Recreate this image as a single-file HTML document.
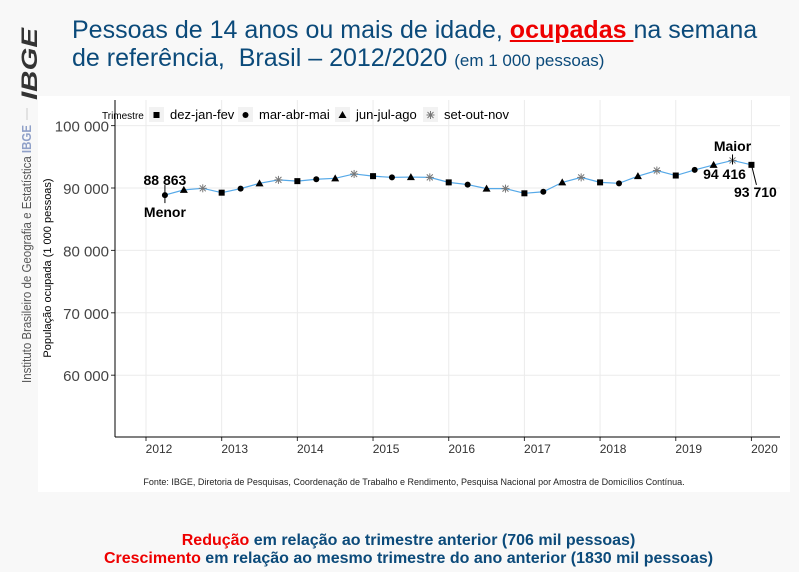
<!DOCTYPE html>
<html><head><meta charset="utf-8"><style>
body{margin:0;width:799px;height:572px;background:#f8f8f8;font-family:"Liberation Sans",sans-serif;overflow:hidden;position:relative}
.t{position:absolute;left:72px;top:16px;color:#0b4a7a;font-size:25px;line-height:28px}
.b{position:absolute;left:9px;width:799px;text-align:center;font-weight:bold;font-size:16px;color:#0b4a7a}
</style></head><body>
<div class="t">Pessoas de 14 anos ou mais de idade, <span style="color:#e00;font-weight:bold;text-decoration:underline">ocupadas </span>na semana<br>de referência,&nbsp; Brasil – 2012/2020 <span style="font-size:17px">(em 1 000 pessoas)</span></div>
<svg width="799" height="572" style="position:absolute;left:0;top:0">
<text transform="translate(37,100) rotate(-90)" font-size="22" font-weight="bold" font-style="italic" fill="#333" text-anchor="start" textLength="72" lengthAdjust="spacingAndGlyphs">IBGE</text>
<line x1="27" x2="27" y1="108" y2="120" stroke="#ccc"/>
<text transform="translate(31,383) rotate(-90)" font-size="12.5" fill="#555" textLength="258" lengthAdjust="spacingAndGlyphs">Instituto Brasileiro de Geografia e Estatística <tspan fill="#8fa0c8" font-weight="bold">IBGE</tspan></text>
<rect x="38" y="96" width="752" height="396" fill="#fff"/>
<g id="plot"></g>
<text x="414" y="485" font-size="9" fill="#222" text-anchor="middle">Fonte: IBGE, Diretoria de Pesquisas, Coordenação de Trabalho e Rendimento, Pesquisa Nacional por Amostra de Domicílios Contínua.</text>
</svg>
<div class="b" style="top:532px"><span style="color:#e00">Redução</span> em relação ao trimestre anterior (706 mil pessoas)</div>
<div class="b" style="top:550px"><span style="color:#e00">Crescimento</span> em relação ao mesmo trimestre do ano anterior (1830 mil pessoas)</div>
<script>
const values=[88863,89700,89950,89250,89900,90750,91300,91100,91400,91550,92250,91900,91700,91750,91700,90900,90550,89900,89900,89150,89400,90900,91700,90900,90750,91900,92800,92000,92900,93700,94416,93710];
const yTicks=[60000,70000,80000,90000,100000];
const yTickLabels=["60 000","70 000","80 000","90 000","100 000"];
const years=["2012","2013","2014","2015","2016","2017","2018","2019","2020"];
const legendLabels=["dez-jan-fev","mar-abr-mai","jun-jul-ago","set-out-nov"];
const NS="http://www.w3.org/2000/svg",g=document.getElementById('plot');
const X=i=>146+i*18.92, Y=v=>188-(v-90000)*0.00624;
function el(t,a,p){const e=document.createElementNS(NS,t);for(const k in a)e.setAttribute(k,a[k]);(p||g).appendChild(e);return e;}
yTicks.forEach((v,i)=>{el('line',{x1:115,x2:780,y1:Y(v),y2:Y(v),stroke:'#ebebeb'});el('line',{x1:111,x2:115,y1:Y(v),y2:Y(v),stroke:'#333'});
const t=el('text',{x:109,y:Y(v)+6,'font-size':15,fill:'#444','text-anchor':'end'});t.textContent=yTickLabels[i];

});
years.forEach((y,i)=>{const x=X(i*4);el('line',{x1:x,x2:x,y1:100,y2:437,stroke:'#ebebeb'});el('line',{x1:x,x2:x,y1:437,y2:441,stroke:'#333'});
const t=el('text',{x:x+13,y:453,'font-size':12,fill:'#333','text-anchor':'middle'});t.textContent=y;

});
el('line',{x1:115,x2:115,y1:100,y2:437,stroke:'#000'});el('line',{x1:115,x2:780,y1:437,y2:437,stroke:'#000'});
const yt=el('text',{transform:'translate(51,268) rotate(-90)','font-size':11,fill:'#000','text-anchor':'middle'});yt.textContent='População ocupada (1 000 pessoas)';


el('polyline',{points:values.map((v,i)=>X(i+1)+','+Y(v)).join(' '),fill:'none',stroke:'#56a9e8','stroke-width':1.2});
function mark(k,x,y,p){
 if(k==0)return el('rect',{x:x-3,y:y-3,width:6,height:6,fill:'#000'},p);
 if(k==1)return el('circle',{cx:x,cy:y,r:3,fill:'#000'},p);
 if(k==2)return el('polygon',{points:`${x},${y-4} ${x-4},${y+3} ${x+4},${y+3}`,fill:'#000'},p);
 const s=el('g',{stroke:'#777','stroke-width':1},p);
 [[0,-4,0,4],[-4,0,4,0],[-3,-3,3,3],[-3,3,3,-3]].forEach(a=>el('line',{x1:x+a[0],y1:y+a[1],x2:x+a[2],y2:y+a[3]},s));return s;}
values.forEach((v,i)=>{const m=mark((i+1)%4,X(i+1),Y(v));

});
function txt(s,x,y,a,sz,w){const t=el('text',{x:x,y:y,'font-size':sz||14,'font-weight':w||'bold',fill:'#000','text-anchor':a||'middle'});t.textContent=s;return t;}
const lt=txt('Trimestre',102,119,'start',10,'normal');


const lx=[156,245,342,430];
legendLabels.forEach((l,k)=>{el('rect',{x:lx[k]-7,y:107,width:15,height:15,fill:'#f2f2f2'});mark(k,lx[k]+0.5,115);
const t=txt(l,lx[k]+14,119,'start',13,'normal');

});
const x1=X(1),y1=Y(values[0]);el('line',{x1:x1,x2:x1,y1:y1-10,y2:y1+8,stroke:'#000'});
txt((values[0]/1000).toFixed(3).replace('.',' '),x1,185);txt('Menor',x1,217);
const ix=values.indexOf(Math.max(...values)),xm=X(ix+1),ym=Y(values[ix]);
txt('Maior',xm,151);el('line',{x1:xm,x2:xm,y1:ym-6,y2:ym+4,stroke:'#000'});txt('94 416',xm-8,179);
const xl=X(32),yl=Y(values[31]);el('line',{x1:xl,x2:xl+5,y1:yl,y2:yl+20,stroke:'#000'});txt('93 710',xl+4,197);
</script>
</body></html>
